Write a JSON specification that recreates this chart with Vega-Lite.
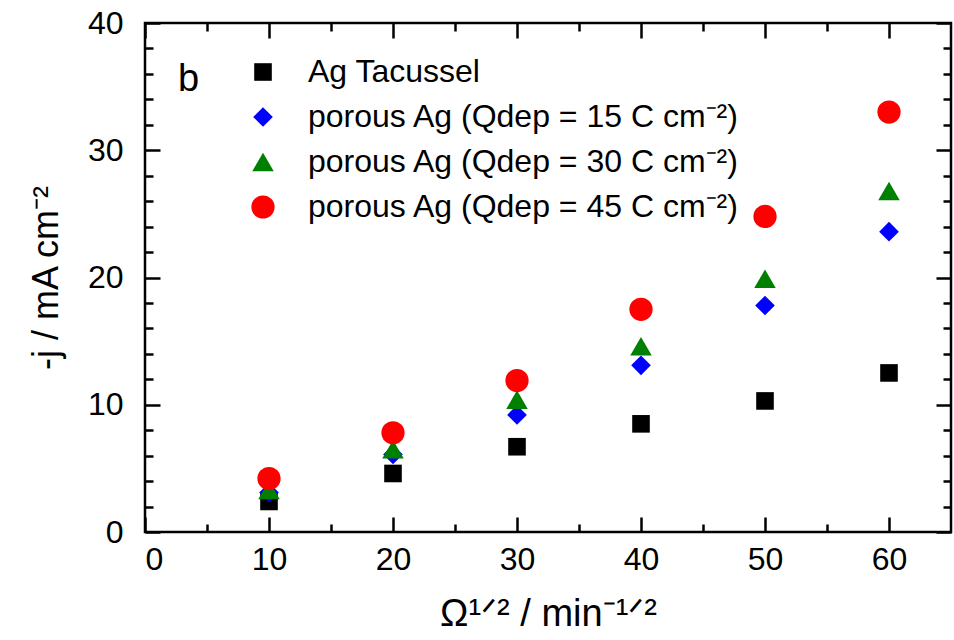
{
  "$schema": "https://vega.github.io/schema/vega-lite/v6.json",
  "width": 806,
  "height": 509,
  "autosize": "none",
  "padding": {"left": 145, "top": 23, "right": 3, "bottom": 108},
  "background": "white",
  "config": {
    "font": "Liberation Sans",
    "view": {"stroke": "black", "strokeWidth": 2.5},
    "axis": {
      "grid": false,
      "domain": false,
      "tickColor": "black",
      "tickWidth": 2.5,
      "labelColor": "black",
      "titleColor": "black",
      "labelFont": "Liberation Sans",
      "titleFont": "Liberation Sans",
      "titleFontWeight": "normal"
    }
  },
  "data": {
    "values": [
      {"omega": 10, "j": 2.4, "series": "Ag Tacussel"},
      {"omega": 20, "j": 4.6, "series": "Ag Tacussel"},
      {"omega": 30, "j": 6.7, "series": "Ag Tacussel"},
      {"omega": 40, "j": 8.5, "series": "Ag Tacussel"},
      {"omega": 50, "j": 10.3, "series": "Ag Tacussel"},
      {"omega": 60, "j": 12.5, "series": "Ag Tacussel"},
      {"omega": 10, "j": 3.1, "series": "porous Ag (Qdep = 15 C cm⁻²)"},
      {"omega": 20, "j": 6.1, "series": "porous Ag (Qdep = 15 C cm⁻²)"},
      {"omega": 30, "j": 9.2, "series": "porous Ag (Qdep = 15 C cm⁻²)"},
      {"omega": 40, "j": 13.1, "series": "porous Ag (Qdep = 15 C cm⁻²)"},
      {"omega": 50, "j": 17.8, "series": "porous Ag (Qdep = 15 C cm⁻²)"},
      {"omega": 60, "j": 23.6, "series": "porous Ag (Qdep = 15 C cm⁻²)"},
      {"omega": 10, "j": 3.3, "series": "porous Ag (Qdep = 30 C cm⁻²)"},
      {"omega": 20, "j": 6.5, "series": "porous Ag (Qdep = 30 C cm⁻²)"},
      {"omega": 30, "j": 10.4, "series": "porous Ag (Qdep = 30 C cm⁻²)"},
      {"omega": 40, "j": 14.6, "series": "porous Ag (Qdep = 30 C cm⁻²)"},
      {"omega": 50, "j": 19.9, "series": "porous Ag (Qdep = 30 C cm⁻²)"},
      {"omega": 60, "j": 26.8, "series": "porous Ag (Qdep = 30 C cm⁻²)"},
      {"omega": 10, "j": 4.2, "series": "porous Ag (Qdep = 45 C cm⁻²)"},
      {"omega": 20, "j": 7.8, "series": "porous Ag (Qdep = 45 C cm⁻²)"},
      {"omega": 30, "j": 11.9, "series": "porous Ag (Qdep = 45 C cm⁻²)"},
      {"omega": 40, "j": 17.5, "series": "porous Ag (Qdep = 45 C cm⁻²)"},
      {"omega": 50, "j": 24.8, "series": "porous Ag (Qdep = 45 C cm⁻²)"},
      {"omega": 60, "j": 33.0, "series": "porous Ag (Qdep = 45 C cm⁻²)"}
    ]
  },
  "layer": [
    {
      "mark": {"type": "point", "filled": true, "opacity": 1, "strokeWidth": 0},
      "encoding": {
        "x": {
          "field": "omega",
          "type": "quantitative",
          "scale": {"domain": [0, 65], "nice": false, "zero": false},
          "axis": {
            "orient": "bottom",
            "values": [0, 10, 20, 30, 40, 50, 60],
            "ticks": false,
            "labelFontSize": 32,
            "labelPadding": 12,
            "title": "Ω¹ᐟ² / min⁻¹ᐟ²",
            "titleFontSize": 38,
            "titlePadding": 20
          }
        },
        "y": {
          "field": "j",
          "type": "quantitative",
          "scale": {"domain": [0, 40], "nice": false, "zero": false},
          "axis": {
            "orient": "left",
            "values": [0, 10, 20, 30, 40],
            "ticks": false,
            "labelFontSize": 32,
            "labelPadding": 22,
            "title": "-j / mA cm⁻²",
            "titleFontSize": 36,
            "titlePadding": 22
          }
        },
        "color": {
          "field": "series",
          "type": "nominal",
          "scale": {
            "domain": ["Ag Tacussel", "porous Ag (Qdep = 15 C cm⁻²)", "porous Ag (Qdep = 30 C cm⁻²)", "porous Ag (Qdep = 45 C cm⁻²)"],
            "range": ["#000000", "#0000ff", "#008000", "#ff0000"]
          },
          "legend": {
            "title": null, "orient": "none", "legendX": 102, "legendY": 33,
            "padding": 0, "labelFontSize": 32, "labelOffset": 29, "rowPadding": 13,
            "labelLimit": 0, "labelColor": "black", "symbolStrokeWidth": 0
          }
        },
        "shape": {
          "field": "series",
          "type": "nominal",
          "scale": {
            "domain": ["Ag Tacussel", "porous Ag (Qdep = 15 C cm⁻²)", "porous Ag (Qdep = 30 C cm⁻²)", "porous Ag (Qdep = 45 C cm⁻²)"],
            "range": ["square", "diamond", "triangle-up", "circle"]
          },
          "legend": {
            "title": null, "orient": "none", "legendX": 102, "legendY": 33,
            "padding": 0, "labelFontSize": 32, "labelOffset": 29, "rowPadding": 13,
            "labelLimit": 0, "labelColor": "black", "symbolStrokeWidth": 0
          }
        },
        "size": {
          "field": "series",
          "type": "nominal",
          "scale": {
            "domain": ["Ag Tacussel", "porous Ag (Qdep = 15 C cm⁻²)", "porous Ag (Qdep = 30 C cm⁻²)", "porous Ag (Qdep = 45 C cm⁻²)"],
            "range": [310, 540, 520, 355]
          },
          "legend": {
            "title": null, "orient": "none", "legendX": 102, "legendY": 33,
            "padding": 0, "labelFontSize": 32, "labelOffset": 29, "rowPadding": 13,
            "labelLimit": 0, "labelColor": "black", "symbolStrokeWidth": 0
          }
        }
      }
    },
    {
      "mark": {"type": "point", "opacity": 0},
      "encoding": {
        "x": {"field": "omega", "type": "quantitative",
          "axis": {"orient": "bottom", "values": [0, 10, 20, 30, 40, 50, 60], "tickSize": -15, "labels": false, "title": null}},
        "y": {"field": "j", "type": "quantitative",
          "axis": {"orient": "left", "values": [0, 10, 20, 30, 40], "tickSize": -15, "labels": false, "title": null}}
      }
    },
    {
      "mark": {"type": "point", "opacity": 0},
      "encoding": {
        "x": {"field": "omega", "type": "quantitative",
          "axis": {"orient": "bottom", "values": [5, 15, 25, 35, 45, 55], "tickSize": -8, "labels": false, "title": null}},
        "y": {"field": "j", "type": "quantitative",
          "axis": {"orient": "left", "values": [2, 4, 6, 8, 12, 14, 16, 18, 22, 24, 26, 28, 32, 34, 36, 38], "tickSize": -8, "labels": false, "title": null}}
      }
    },
    {
      "mark": {"type": "point", "opacity": 0},
      "encoding": {
        "x": {"field": "omega", "type": "quantitative",
          "axis": {"orient": "top", "values": [0, 10, 20, 30, 40, 50, 60], "tickSize": -15, "labels": false, "title": null}},
        "y": {"field": "j", "type": "quantitative",
          "axis": {"orient": "right", "values": [0, 10, 20, 30, 40], "tickSize": -15, "labels": false, "title": null}}
      }
    },
    {
      "mark": {"type": "point", "opacity": 0},
      "encoding": {
        "x": {"field": "omega", "type": "quantitative",
          "axis": {"orient": "top", "values": [5, 15, 25, 35, 45, 55], "tickSize": -8, "labels": false, "title": null}},
        "y": {"field": "j", "type": "quantitative",
          "axis": {"orient": "right", "values": [2, 4, 6, 8, 12, 14, 16, 18, 22, 24, 26, 28, 32, 34, 36, 38], "tickSize": -8, "labels": false, "title": null}}
      }
    },
    {
      "data": {"values": [{"panel": "b"}]},
      "mark": {"type": "text", "fontSize": 38, "align": "left", "baseline": "alphabetic", "color": "black"},
      "encoding": {
        "x": {"datum": 2.66, "type": "quantitative", "axis": null},
        "y": {"datum": 34.68, "type": "quantitative", "axis": null},
        "text": {"field": "panel"}
      }
    }
  ],
  "resolve": {"axis": {"x": "independent", "y": "independent"}}
}
